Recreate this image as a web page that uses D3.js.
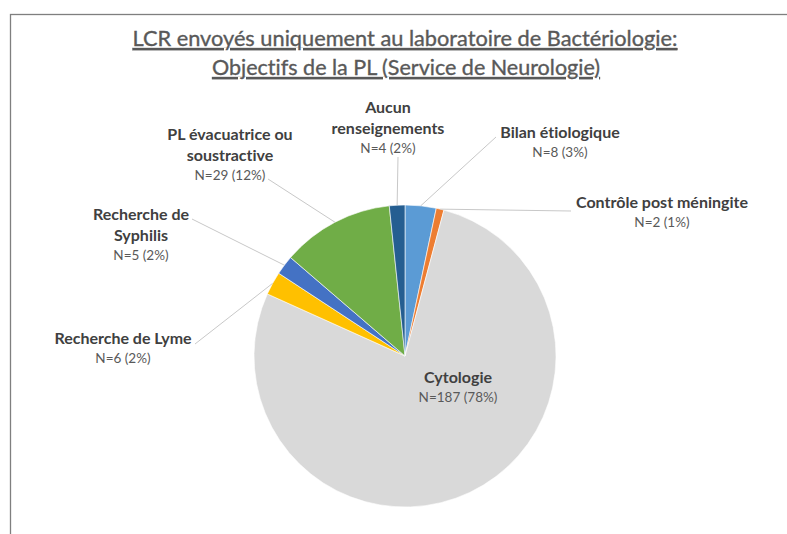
<!DOCTYPE html>
<html>
<head>
<meta charset="utf-8">
<script src="https://cdn.jsdelivr.net/npm/d3@7"></script>
<style>
  body { margin: 0; background: #fff; }
  svg { display: block; font-family: Lato, "Open Sans", sans-serif; font-variant-ligatures: none; }
</style>
</head>
<body>
<svg id="chart"></svg>
<script>
// data, clockwise from 12 o'clock
const categories = ["Bilan étiologique", "Contrôle post méningite", "Cytologie",
  "Recherche de Lyme", "Recherche de Syphilis", "PL évacuatrice ou soustractive",
  "Aucun renseignements"];
const counts = [8, 2, 187, 6, 5, 29, 4];
const percents = ["3%", "1%", "78%", "2%", "2%", "12%", "2%"];
const titleLines = ["LCR envoyés uniquement au laboratoire de Bactériologie:",
  "Objectifs de la PL (Service de Neurologie)"];

// label text is wrapped the way the reference wraps it
const labelLines = [
  ["Bilan étiologique"],
  ["Contrôle post méningite"],
  ["Cytologie"],
  ["Recherche de Lyme"],
  ["Recherche de", "Syphilis"],
  ["PL évacuatrice ou", "soustractive"],
  ["Aucun", "renseignements"]
];

const colors = ["#5b9bd5", "#ed7d31", "#d9d9d9", "#ffc000", "#4472c4", "#70ad47", "#255e91"];

// where each label sits (centre x, first baseline) and where its leader starts
const labelLayout = [
  {x: 560, y: 138, ax: 496, ay: 137},
  {x: 662, y: 208, ax: 571, ay: 211},
  {x: 458, y: 383, ax: null},
  {x: 123, y: 344, ax: 195, ay: 344},
  {x: 141, y: 220, ax: 192, ay: 219},
  {x: 230, y: 140, ax: 268, ay: 179},
  {x: 388, y: 113, ax: 398, ay: 157}
];

const WIDTH = 787, HEIGHT = 534;
const cx = 405, cy = 356, radius = 151;

const svg = d3.select("#chart")
    .attr("width", WIDTH)
    .attr("height", HEIGHT);

// chart frame
svg.append("rect")
    .attr("x", 10.5).attr("y", 14.5)
    .attr("width", 900).attr("height", 700)
    .attr("fill", "none")
    .attr("stroke", "#7f7f7f")
    .attr("stroke-width", 1.3);

// title
const title = svg.append("g")
    .attr("fill", "#595959")
    .attr("stroke", "#595959")
    .attr("stroke-width", 0.35)
    .attr("text-anchor", "middle")
    .attr("text-decoration", "underline")
    .attr("font-size", 21.5);
title.append("text").attr("x", 405).attr("y", 46)
    .attr("textLength", 545).attr("lengthAdjust", "spacingAndGlyphs")
    .text(titleLines[0]);
title.append("text").attr("x", 406).attr("y", 75)
    .attr("textLength", 388).attr("lengthAdjust", "spacingAndGlyphs")
    .text(titleLines[1]);

const rows = categories.map((c, i) => ({
  name: c, value: counts[i], pct: percents[i], lines: labelLines[i],
  color: colors[i], pos: labelLayout[i]
}));

const pie = d3.pie().sort(null).value(d => d.value);
const arcs = pie(rows);
const arc = d3.arc().innerRadius(0).outerRadius(radius);
const edge = d3.arc().innerRadius(radius).outerRadius(radius);

const g = svg.append("g").attr("transform", `translate(${cx},${cy})`);

g.selectAll("path.slice")
  .data(arcs)
  .join("path")
    .attr("class", "slice")
    .attr("d", arc)
    .attr("fill", d => d.data.color)
    .attr("stroke", "#fff")
    .attr("stroke-width", 0.6);

// leader lines
g.selectAll("path.leader")
  .data(arcs.filter(d => d.data.pos.ax != null))
  .join("path")
    .attr("class", "leader")
    .attr("fill", "none")
    .attr("stroke", "#c8c8c8")
    .attr("stroke-width", 1)
    .attr("d", d => {
      const p = edge.centroid(d);
      const a = [d.data.pos.ax - cx, d.data.pos.ay - cy];
      return d3.line()([a, p]);
    });

// labels
const lab = svg.append("g")
    .attr("text-anchor", "middle")
  .selectAll("text")
  .data(arcs)
  .join("text")
    .attr("x", d => d.data.pos.x)
    .attr("y", d => d.data.pos.y);

lab.each(function(d) {
  const t = d3.select(this);
  d.data.lines.forEach((ln, k) => {
    t.append("tspan")
        .attr("x", d.data.pos.x)
        .attr("dy", k === 0 ? 0 : 20.5)
        .attr("font-size", 16)
        .attr("font-weight", "bold")
        .attr("fill", "#404040")
        .text(ln);
  });
  t.append("tspan")
      .attr("x", d.data.pos.x)
      .attr("dy", 19)
      .attr("font-size", 13.5)
      .attr("fill", "#595959")
      .text(`N=${d.data.value} (${d.data.pct})`);
});
</script>
</body>
</html>
